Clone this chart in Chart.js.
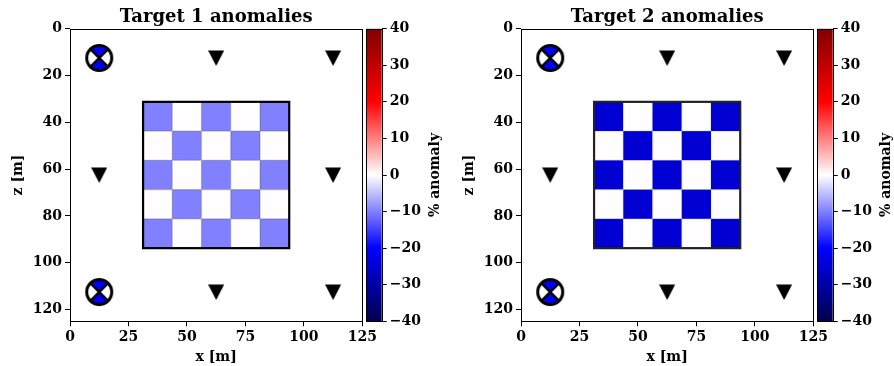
<!DOCTYPE html>
<html><head><meta charset="utf-8">
<script src="https://cdn.jsdelivr.net/npm/chart.js@4.4.1/dist/chart.umd.min.js"></script>
<style>
html,body{margin:0;padding:0;background:#fff;}
#wrap{position:relative;width:894px;height:366px;overflow:hidden;background:#fff;}
canvas{position:absolute;top:0;}
</style></head><body>
<div id="wrap">
<canvas id="m1" width="382" height="366" style="left:0px"></canvas>
<canvas id="c1" width="90" height="366" style="left:360px"></canvas>
<canvas id="m2" width="382" height="366" style="left:451px"></canvas>
<canvas id="c2" width="90" height="366" style="left:811px"></canvas>
</div>
<script>
// ---------- data ----------
const titles = ['Target 1 anomalies', 'Target 2 anomalies'];
const xTicks = [0, 25, 50, 75, 100, 125];
const zTicks = [0, 20, 40, 60, 80, 100, 120];
const cbTicks = [-40, -30, -20, -10, 0, 10, 20, 30, 40];
const cbTickLabels = ['\u221240', '\u221230', '\u221220', '\u221210', '0', '10', '20', '30', '40'];
const cbRange = [-40, 40];
const recX = [62.5, 112.5, 12.5, 112.5, 62.5, 112.5];
const recZ = [12.5, 12.5, 62.5, 62.5, 112.5, 112.5];
const srcX = [12.5, 12.5];
const srcZ = [12.5, 112.5];
const cellEdgesX = [31.25, 43.75, 56.25, 68.75, 81.25, 93.75];
const cellEdgesZ = [31.25, 43.75, 56.25, 68.75, 81.25, 93.75];
const target1 = [
  [-10, 0, -10, 0, -10],
  [0, -10, 0, -10, 0],
  [-10, 0, -10, 0, -10],
  [0, -10, 0, -10, 0],
  [-10, 0, -10, 0, -10]
];
const target2 = [
  [-25, 0, -25, 0, -25],
  [0, -25, 0, -25, 0],
  [-25, 0, -25, 0, -25],
  [0, -25, 0, -25, 0],
  [-25, 0, -25, 0, -25]
];

// ---------- styling helpers ----------
const FONT = '"DejaVu Serif", "Liberation Serif", serif';
const seismicStops = [[0, [0, 0, 0.3]], [0.25, [0, 0, 1]], [0.5, [1, 1, 1]], [0.75, [1, 0, 0]], [1, [0.5, 0, 0]]];
function seismic(v) {
  let f = (v - cbRange[0]) / (cbRange[1] - cbRange[0]);
  let idx = Math.min(255, Math.max(0, Math.floor(f * 256)));
  f = idx / 255;
  for (let i = 0; i < seismicStops.length - 1; i++) {
    const [a, ca] = seismicStops[i], [b, cb] = seismicStops[i + 1];
    if (f <= b) {
      const t = (f - a) / (b - a);
      const c = ca.map((x, k) => Math.round(255 * (x + (cb[k] - x) * t)));
      return 'rgb(' + c.join(',') + ')';
    }
  }
  return 'rgb(128,0,0)';
}
function triImg() {
  const c = document.createElement('canvas'); c.width = 16; c.height = 16;
  const g = c.getContext('2d'); g.fillStyle = '#000';
  g.beginPath(); g.moveTo(0, 0.5); g.lineTo(16, 0.5); g.lineTo(8, 16); g.closePath(); g.fill();
  return c;
}
function srcImg() {
  const c = document.createElement('canvas'); c.width = 30; c.height = 30;
  const g = c.getContext('2d'); const cx = 15, cy = 15, r = 12.5;
  g.fillStyle = '#fff'; g.beginPath(); g.arc(cx, cy, r, 0, Math.PI * 2); g.fill();
  g.fillStyle = '#0000ff';
  g.beginPath(); g.moveTo(cx, cy); g.arc(cx, cy, r, -3 * Math.PI / 4, -Math.PI / 4); g.closePath(); g.fill();
  g.beginPath(); g.moveTo(cx, cy); g.arc(cx, cy, r, Math.PI / 4, 3 * Math.PI / 4); g.closePath(); g.fill();
  g.strokeStyle = '#000'; g.lineWidth = 2.5;
  const d = r * Math.SQRT1_2;
  g.beginPath(); g.moveTo(cx - d, cy - d); g.lineTo(cx + d, cy + d); g.moveTo(cx + d, cy - d); g.lineTo(cx - d, cy + d); g.stroke();
  g.lineWidth = 3; g.beginPath(); g.arc(cx, cy, r, 0, Math.PI * 2); g.stroke();
  return c;
}
const TRI = triImg(), SRC = srcImg();

const cellsPlugin = {
  id: 'cells',
  beforeDatasetsDraw(chart, args, opts) {
    const grid = opts.grid; if (!grid) return;
    const xs = chart.scales.x, ys = chart.scales.y, ctx = chart.ctx;
    ctx.save();
    for (let r = 0; r < grid.length; r++) {
      for (let c = 0; c < grid[r].length; c++) {
        const x0 = xs.getPixelForValue(cellEdgesX[c]), x1 = xs.getPixelForValue(cellEdgesX[c + 1]);
        const y0 = ys.getPixelForValue(cellEdgesZ[r]), y1 = ys.getPixelForValue(cellEdgesZ[r + 1]);
        ctx.fillStyle = seismic(grid[r][c]);
        ctx.fillRect(x0, y0, x1 - x0, y1 - y0);
      }
    }
    // seams between cells
    ctx.strokeStyle = opts.seam; ctx.lineWidth = 1.2;
    const xa = xs.getPixelForValue(cellEdgesX[0]), xb = xs.getPixelForValue(cellEdgesX[cellEdgesX.length - 1]);
    const ya = ys.getPixelForValue(cellEdgesZ[0]), yb = ys.getPixelForValue(cellEdgesZ[cellEdgesZ.length - 1]);
    ctx.beginPath();
    for (let i = 1; i < cellEdgesX.length - 1; i++) { const p = xs.getPixelForValue(cellEdgesX[i]); ctx.moveTo(p, ya); ctx.lineTo(p, yb); }
    for (let i = 1; i < cellEdgesZ.length - 1; i++) { const p = ys.getPixelForValue(cellEdgesZ[i]); ctx.moveTo(xa, p); ctx.lineTo(xb, p); }
    ctx.stroke();
    // outline
    ctx.strokeStyle = opts.outline; ctx.lineWidth = 2.2;
    ctx.strokeRect(xa, ya, xb - xa, yb - ya);
    ctx.restore();
  },
  afterDraw(chart, args, opts) {
    const a = chart.chartArea, ctx = chart.ctx;
    ctx.save();
    ctx.strokeStyle = '#000'; ctx.lineWidth = 1;
    ctx.strokeRect(Math.round(a.left) + 0.5, Math.round(a.top) + 0.5, Math.round(a.right) - Math.round(a.left), Math.round(a.bottom) - Math.round(a.top));
    if (opts.title) {
      ctx.fillStyle = '#000';
      ctx.font = 'bold 18px ' + FONT;
      ctx.textAlign = 'center'; ctx.textBaseline = 'middle';
      ctx.fillText(opts.title, (a.left + a.right) / 2, a.top - 11.5);
    }
    ctx.restore();
  }
};

function mainChart(id, title, grid, outline, seam) {
  const tickFont = { family: FONT, size: 14, weight: 'bold' };
  return new Chart(document.getElementById(id), {
    type: 'scatter',
    data: {
      datasets: [
        { data: recX.map((x, i) => ({ x: x, y: recZ[i] })), pointStyle: TRI, pointRadius: 8 },
        { data: srcX.map((x, i) => ({ x: x, y: srcZ[i] })), pointStyle: SRC, pointRadius: 14 }
      ]
    },
    options: {
      responsive: false, animation: false, devicePixelRatio: 1,
      layout: { padding: { left: 0, right: 19.7, top: 28.7, bottom: 0 } },
      plugins: { legend: { display: false }, tooltip: { enabled: false }, cells: { grid: grid, outline: outline, seam: seam, title: title } },
      scales: {
        x: {
          type: 'linear', min: 0, max: 125,
          afterBuildTicks: s => { s.ticks = xTicks.map(v => ({ value: v })); },
          afterFit: s => { s.height = 44.7; },
          grid: { drawOnChartArea: false, drawTicks: true, tickLength: 5, color: '#000', tickColor: '#000' },
          border: { display: false },
          ticks: { color: '#000', font: tickFont, padding: 3, maxRotation: 0, autoSkip: false },
          title: { display: true, text: 'x [m]', color: '#000', font: tickFont, padding: { top: 0, bottom: 0.6 } }
        },
        y: {
          type: 'linear', min: 0, max: 125, reverse: true,
          afterBuildTicks: s => { s.ticks = zTicks.map(v => ({ value: v })); },
          afterFit: s => { s.width = 70; },
          grid: { drawOnChartArea: false, drawTicks: true, tickLength: 5, color: '#000', tickColor: '#000' },
          border: { display: false },
          ticks: { color: '#000', font: tickFont, padding: 3, autoSkip: false },
          title: { display: true, text: 'z [m]', color: '#000', font: tickFont, padding: { top: 9.6, bottom: 0 } }
        }
      }
    },
    plugins: [cellsPlugin]
  });
}

const cbPlugin = {
  id: 'cbframe',
  afterDraw(chart, args, opts) {
    const a = chart.chartArea, ctx = chart.ctx;
    ctx.save();
    ctx.strokeStyle = '#000'; ctx.lineWidth = 1;
    ctx.strokeRect(Math.round(a.left) + 0.5, Math.round(a.top) + 0.5, Math.round(a.right) - Math.round(a.left), Math.round(a.bottom) - Math.round(a.top));
    ctx.translate(a.right + 54, (a.top + a.bottom) / 2);
    ctx.rotate(-Math.PI / 2);
    ctx.fillStyle = '#000'; ctx.font = 'bold 14px ' + FONT;
    ctx.textAlign = 'center'; ctx.textBaseline = 'middle';
    ctx.fillText(opts.label, 0, 0);
    ctx.restore();
  }
};

function cbChart(id) {
  const tickFont = { family: FONT, size: 14, weight: 'bold' };
  return new Chart(document.getElementById(id), {
    type: 'bar',
    data: {
      labels: [''],
      datasets: [{
        data: [cbRange],
        borderWidth: 0, barPercentage: 1, categoryPercentage: 1,
        backgroundColor: (c) => {
          const ch = c.chart; if (!ch.chartArea) return '#888';
          const ys = ch.scales.y;
          const g = ch.ctx.createLinearGradient(0, ys.getPixelForValue(cbRange[0]), 0, ys.getPixelForValue(cbRange[1]));
          seismicStops.forEach(([p, col]) => g.addColorStop(p, 'rgb(' + col.map(x => Math.round(x * 255)).join(',') + ')'));
          return g;
        }
      }]
    },
    options: {
      responsive: false, animation: false, devicePixelRatio: 1,
      layout: { padding: { left: 6, right: 0, top: 28.7, bottom: 44.7 } },
      plugins: { legend: { display: false }, tooltip: { enabled: false }, cbframe: { label: '% anomaly' } },
      scales: {
        x: { display: false },
        y: {
          position: 'right', min: cbRange[0], max: cbRange[1],
          afterBuildTicks: s => { s.ticks = cbTicks.map(v => ({ value: v })); },
          afterFit: s => { s.width = 68.3; },
          grid: { drawOnChartArea: false, drawTicks: true, tickLength: 5, color: '#000', tickColor: '#000' },
          border: { display: false },
          ticks: { color: '#000', font: tickFont, padding: 3, autoSkip: false, callback: (v) => cbTickLabels[cbTicks.indexOf(v)] }
        }
      }
    },
    plugins: [cbPlugin]
  });
}

mainChart('m1', titles[0], target1, '#000', 'rgba(0,0,0,0.2)');
cbChart('c1');
mainChart('m2', titles[1], target2, '#222', 'rgba(60,60,140,0.15)');
cbChart('c2');
</script>
</body></html>
